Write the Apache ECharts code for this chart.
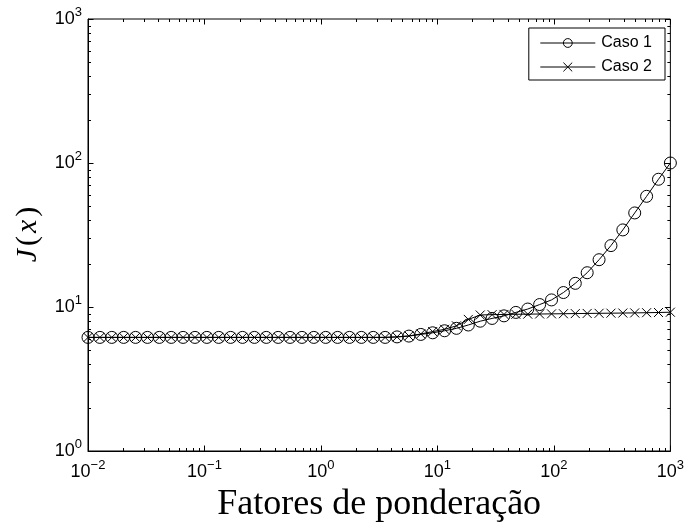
<!DOCTYPE html>
<html>
<head>
<meta charset="utf-8">
<script src="https://cdn.jsdelivr.net/npm/echarts@6/dist/echarts.min.js"></script>
<style>
  html, body { margin: 0; padding: 0; background: #fff; }
  #chart { width: 687px; height: 529px; }
</style>
</head>
<body>
<div id="chart"></div>
<script>
// Weighting factors (x, log-spaced) and the cost J(x) for both cases
const fatores = [
  0.01, 0.012649, 0.015999, 0.020236, 0.025595, 0.032375, 0.040949, 0.051795, 0.065513, 0.082864,
  0.10481, 0.13257, 0.16768, 0.21210, 0.26827, 0.33932, 0.42919, 0.54287, 0.68665, 0.86851,
  1.0985, 1.3895, 1.7575, 2.2230, 2.8118, 3.5565, 4.4984, 5.6899, 7.1969, 9.1030,
  11.514, 14.563, 18.421, 23.300, 29.471, 37.276, 47.149, 59.636, 75.431, 95.410,
  120.68, 152.64, 193.07, 244.21, 308.89, 390.70, 494.17, 625.06, 790.60, 1000
];
const caso1 = [
  6.15, 6.15, 6.15, 6.15, 6.15, 6.15, 6.15, 6.15, 6.15, 6.15,
  6.15, 6.15, 6.15, 6.15, 6.15, 6.15, 6.15, 6.15, 6.15, 6.15,
  6.15, 6.15, 6.15, 6.15, 6.15, 6.15, 6.2, 6.28, 6.45, 6.62,
  6.84, 7.11, 7.5, 7.97, 8.33, 8.68, 9.17, 9.68, 10.4, 11.2,
  12.6, 14.6, 17.3, 21.3, 26.7, 34.3, 45.0, 58.7, 77.1, 100
];
const caso2 = [
  6.15, 6.15, 6.15, 6.15, 6.15, 6.15, 6.15, 6.15, 6.15, 6.15,
  6.15, 6.15, 6.15, 6.15, 6.15, 6.15, 6.15, 6.15, 6.15, 6.15,
  6.15, 6.15, 6.15, 6.15, 6.15, 6.15, 6.2, 6.3, 6.5, 6.75,
  7.0, 7.4, 8.2, 8.8, 8.85, 8.88, 8.9, 8.92, 8.94, 8.96,
  8.98, 9.0, 9.02, 9.04, 9.06, 9.08, 9.1, 9.13, 9.16, 9.2
];
const serieNomes = ['Caso 1', 'Caso 2'];
const xTitulo = 'Fatores de ponderação';
const xDecadas = [-2, -1, 0, 1, 2, 3];
const yDecadas = [0, 1, 2, 3];

// tick marks (drawn inward on all four sides): [x, y, major?, axis(0=x,1=y)]
const tickData = [];
xDecadas.forEach((e, k) => {
  tickData.push([Math.pow(10, e), 1, 1, 0]);
  if (k < xDecadas.length - 1) for (let m = 2; m <= 9; m++) tickData.push([m * Math.pow(10, e), 1, 0, 0]);
});
yDecadas.forEach((e, k) => {
  tickData.push([1, Math.pow(10, e), 1, 1]);
  if (k < yDecadas.length - 1) for (let m = 2; m <= 9; m++) tickData.push([1, m * Math.pow(10, e), 0, 1]);
});

const pow10Label = v => {
  const e = Math.round(Math.log10(v));
  return '{b|10}{s|' + (e < 0 ? '\u2212' + (-e) : e) + '}';
};
const labelRich = {
  b: { fontFamily: 'Liberation Sans', fontSize: 18, color: '#000' },
  s: { fontFamily: 'Liberation Sans', fontSize: 13, color: '#000', padding: [0, 0, 14, 0] }
};

const chart = echarts.init(document.getElementById('chart'), null, { renderer: 'canvas' });
chart.setOption({
  animation: false,
  backgroundColor: '#fff',
  grid: { left: 88, right: 14, top: 19, bottom: 78, show: true, borderColor: '#000', borderWidth: 1 },
  legend: {
    data: serieNomes,
    orient: 'vertical',
    right: 22,
    top: 28,
    selectedMode: false,
    backgroundColor: '#fff',
    borderColor: '#000',
    borderWidth: 1,
    padding: [7, 13, 5, 11],
    itemWidth: 55,
    itemHeight: 11,
    itemGap: 8,
    itemStyle: { borderWidth: 1 },
    lineStyle: { width: 1 },
    textStyle: { fontFamily: 'Liberation Sans', fontSize: 16, color: '#000', padding: [0, 0, 0, 1] }
  },
  xAxis: {
    type: 'log',
    logBase: 10,
    min: 0.01,
    max: 1000,
    name: xTitulo,
    nameLocation: 'middle',
    nameGap: 36,
    nameTextStyle: { fontFamily: 'Liberation Serif', fontSize: 36, color: '#000' },
    axisLine: { show: true, lineStyle: { color: '#000', width: 1 } },
    axisTick: { show: false },
    minorTick: { show: false },
    splitLine: { show: false },
    axisLabel: { margin: 8, fontSize: 18, formatter: pow10Label, rich: labelRich, showMinLabel: true, showMaxLabel: true }
  },
  yAxis: {
    type: 'log',
    logBase: 10,
    min: 1,
    max: 1000,
    name: '{i|J}{r|(}{i|x}{r|)}',
    nameLocation: 'middle',
    nameGap: 45,
    nameRotate: 90,
    nameTextStyle: {
      color: '#000',
      rich: {
        i: { fontFamily: 'Liberation Serif', fontStyle: 'italic', fontSize: 30, color: '#000', padding: [0, 2, 0, 2] },
        r: { fontFamily: 'Liberation Serif', fontSize: 30, color: '#000', padding: [0, 1, 0, 1] }
      }
    },
    axisLine: { show: true, lineStyle: { color: '#000', width: 1 } },
    axisTick: { show: false },
    minorTick: { show: false },
    splitLine: { show: false },
    axisLabel: { margin: 6, fontSize: 18, formatter: pow10Label, rich: labelRich, showMinLabel: true, showMaxLabel: true }
  },
  series: [
    {
      type: 'custom',
      name: 'ticks',
      silent: true,
      clip: false,
      z: 1,
      data: tickData,
      encode: { x: 0, y: 1 },
      renderItem: (params, api) => {
        const cs = params.coordSys;
        const major = api.value(2) === 1;
        const len = major ? 5.5 : 3;
        const style = { stroke: '#000', lineWidth: 1 };
        if (api.value(3) === 0) {
          const px = Math.round(api.coord([api.value(0), 1])[0]) + 0.5;
          const yb = cs.y + cs.height, yt = cs.y;
          return { type: 'group', children: [
            { type: 'line', shape: { x1: px, y1: yb, x2: px, y2: yb - len }, style },
            { type: 'line', shape: { x1: px, y1: yt, x2: px, y2: yt + len }, style }
          ] };
        }
        const py = Math.round(api.coord([1, api.value(1)])[1]) + 0.5;
        const xl = cs.x, xr = cs.x + cs.width;
        return { type: 'group', children: [
          { type: 'line', shape: { x1: xl, y1: py, x2: xl + len, y2: py }, style },
          { type: 'line', shape: { x1: xr, y1: py, x2: xr - len, y2: py }, style }
        ] };
      }
    },
    {
      type: 'line',
      name: serieNomes[0],
      data: fatores.map((x, i) => [x, caso1[i]]),
      symbol: 'circle',
      symbolSize: 12,
      clip: false,
      z: 3,
      lineStyle: { color: '#000', width: 1 },
      itemStyle: { color: 'transparent', borderColor: '#000', borderWidth: 1 },
      emphasis: { disabled: true }
    },
    {
      type: 'line',
      name: serieNomes[1],
      data: fatores.map((x, i) => [x, caso2[i]]),
      symbol: 'path://M0,0L10,10M10,0L0,10',
      symbolSize: 9,
      clip: false,
      z: 4,
      lineStyle: { color: '#000', width: 1 },
      itemStyle: { color: 'transparent', borderColor: '#000', borderWidth: 1 },
      emphasis: { disabled: true }
    }
  ]
});
</script>
</body>
</html>
